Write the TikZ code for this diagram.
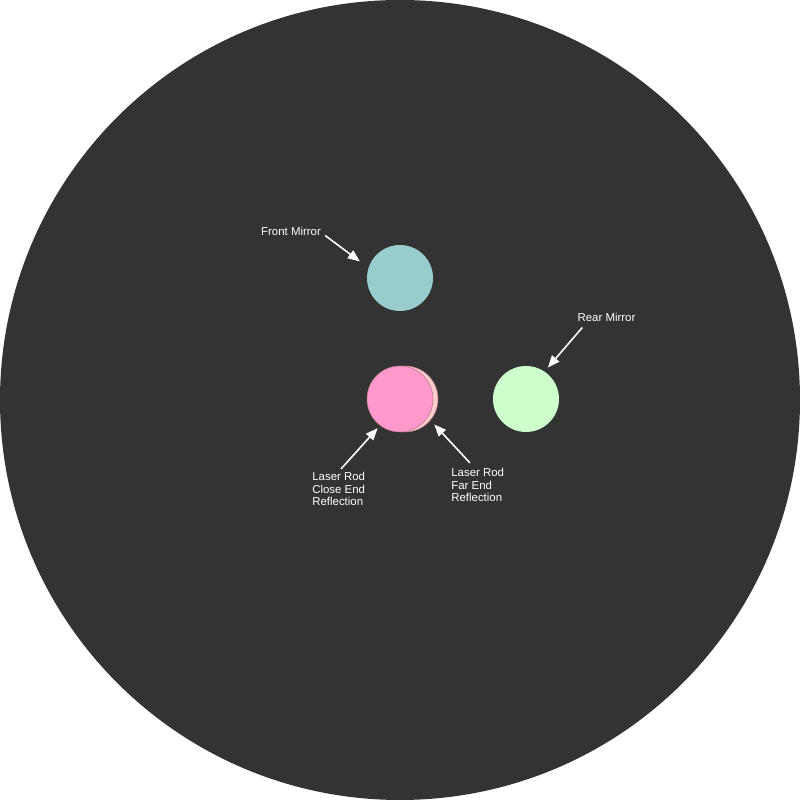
\documentclass[tikz,border=0pt]{standalone}
\usepackage{fontspec}
\setmainfont{Liberation Sans}
\usetikzlibrary{arrows.meta}

\definecolor{scopebg}{HTML}{333333}
\definecolor{frontcol}{HTML}{99CCCC}
\definecolor{closecol}{HTML}{FF99CC}
\definecolor{farcol}{HTML}{FFCCCC}
\definecolor{rearcol}{HTML}{CCFFCC}
\definecolor{rimcol}{HTML}{B07888}

\tikzset{
	spot/.style = {circle, minimum size=1.32cm, inner sep=0pt},
	tag/.style = {text=white, font=\fontsize{6.5}{7.1}\selectfont, inner sep=0pt, align=left},
	pointer/.style = {white, line width=0.9pt, -{Triangle[length=2.4mm, width=1.9mm]}}
}

\begin{document}
\begin{tikzpicture}
	
	\useasboundingbox (0,0) rectangle (16,16);
	\fill [white] (0,0) rectangle (16,16);
	\fill [scopebg] (8,8) circle (8);
	
	% the reflections
	\node [spot, fill=frontcol] (front) at (8,10.44) {};
	\node [spot, fill=farcol, draw=rimcol, line width=0.3pt] (far) at (8.1,8.02) {};
	\node [spot, fill=closecol, draw=rimcol, line width=0.3pt] (close) at (8,8.02) {};
	\node [spot, fill=rearcol] (rear) at (10.52,8.02) {};
	
	% the labels
	\node [tag] (frontlabel) at (5.82,11.38) {Front Mirror};
	\node [tag] (rearlabel) at (12.13,9.66) {Rear Mirror};
	\node [tag, anchor=west] (closelabel) at (6.24,6.22) {Laser Rod\\Close End\\Reflection};
	\node [tag, anchor=west] (farlabel) at (9.02,6.30) {Laser Rod\\Far End\\Reflection};
	
	\draw [pointer, shorten >=0.21cm] ([shift={(0.08,0)}]frontlabel.south east) -- (front.162);
	\draw [pointer, shorten >=0.1cm] ([shift={(0.1,-0.12)}]rearlabel.south west) -- (rear.56);
	\draw [pointer, shorten >=0.07cm] ([shift={(0.58,0.06)}]closelabel.north west) -- (close.233);
	\draw [pointer, shorten >=0.11cm] ([shift={(0.38,0.1)}]farlabel.north west) -- (far.320);
	
\end{tikzpicture}
\end{document}
